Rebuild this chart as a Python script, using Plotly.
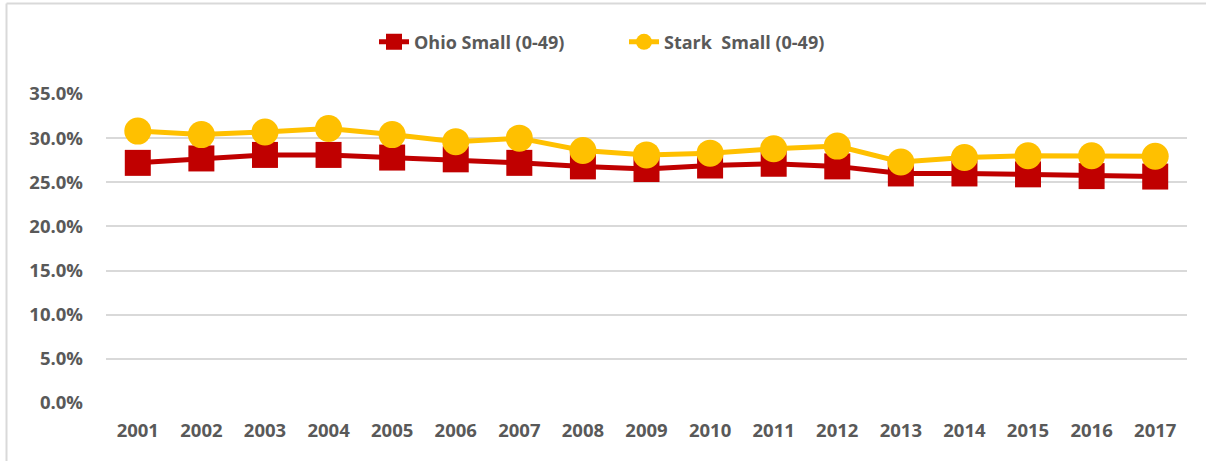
import plotly.graph_objects as go

years = [str(y) for y in range(2001, 2018)]
ohio_small = [27.2, 27.7, 28.1, 28.1, 27.8, 27.6, 27.2, 26.8, 26.5, 26.9, 27.1, 26.8, 26.0, 26.0, 25.9, 25.7, 25.65]
stark_small = [30.8, 30.4, 30.7, 31.1, 30.4, 29.6, 30.0, 28.6, 28.1, 28.3, 28.8, 29.1, 27.3, 27.8, 28.0, 28.0, 27.95]
ohio_small = [v / 100 for v in ohio_small]
stark_small = [v / 100 for v in stark_small]
y_ticks = [0, 0.05, 0.10, 0.15, 0.20, 0.25, 0.30, 0.35]

FONT = "Open Sans"
GRAY = "#595959"

fig = go.Figure()
fig.add_trace(go.Scatter(
    x=years, y=ohio_small, name="Ohio Small (0-49)", mode="lines+markers",
    line=dict(color="#C00000", width=5),
    marker=dict(symbol="square", size=26, color="#C00000"),
    cliponaxis=False,
))
fig.add_trace(go.Scatter(
    x=years, y=stark_small, name="Stark \u00a0Small (0-49)", mode="lines+markers",
    line=dict(color="#FFC000", width=5),
    marker=dict(symbol="circle", size=27, color="#FFC000"),
    cliponaxis=False,
))

fig.update_layout(
    width=1206, height=461,
    margin=dict(l=106, r=19, t=94, b=58),
    paper_bgcolor="white", plot_bgcolor="white",
    font=dict(family=FONT, color=GRAY, size=18),
    showlegend=True,
    legend=dict(
        orientation="h", x=(374 - 106) / 1081, xanchor="left", y=1.168, yanchor="middle",
        font=dict(family=FONT, size=18, color=GRAY, weight="bold"),
        itemwidth=30, tracegroupgap=0, entrywidth=205, entrywidthmode="pixels",
    ),
    xaxis=dict(
        type="category", range=[-0.5, len(years) - 0.5],
        showgrid=False, zeroline=False, showline=False,
        ticks="", tickfont=dict(family=FONT, size=18.5, color=GRAY, weight="bold"),
        ticklabelstandoff=14, automargin=False,
    ),
    yaxis=dict(
        range=[0, 0.35], tickvals=y_ticks, tickformat=".1%",
        showgrid=True, gridcolor="#D9D9D9", gridwidth=2, zeroline=False,
        showline=False, ticks="",
        tickfont=dict(family=FONT, size=18.5, color=GRAY, weight="bold"),
        ticklabelstandoff=22, automargin=False,
    ),
    shapes=[
        dict(type="line", xref="paper", yref="paper",
             x0=(6.5 - 106) / 1081, x1=(6.5 - 106) / 1081,
             y0=(58 - 461) / 309, y1=(461 - 3.5 - 58) / 309,
             line=dict(color="#D9D9D9", width=2)),
        dict(type="line", xref="paper", yref="paper",
             x0=(6.5 - 106) / 1081, x1=(1210 - 106) / 1081,
             y0=(461 - 3.5 - 58) / 309, y1=(461 - 3.5 - 58) / 309,
             line=dict(color="#D9D9D9", width=2)),
    ],
)

fig.write_html(
    "out.html",
    config={"displayModeBar": False},
    post_script="document.body.style.margin='0';document.body.style.overflow='hidden';",
)
